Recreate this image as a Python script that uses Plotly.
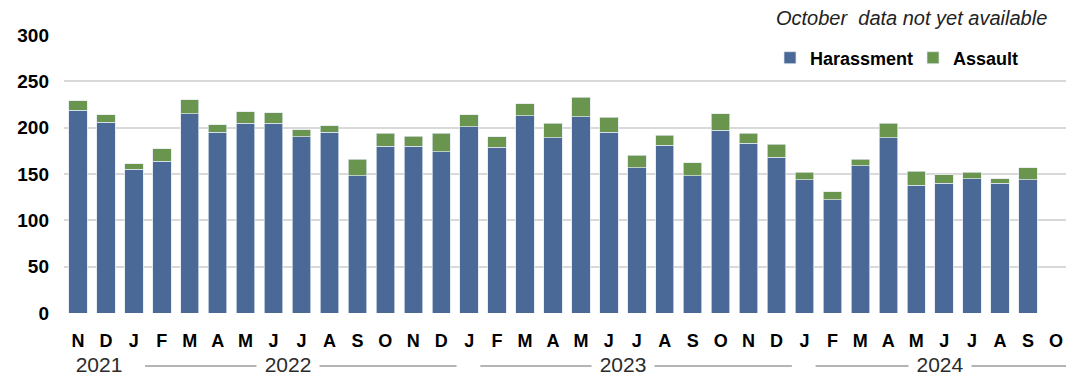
import plotly.graph_objects as go

# Monthly reports, Nov 2021 - Oct 2024 (October 2024 not yet available)
months = ["N", "D",
          "J", "F", "M", "A", "M", "J", "J", "A", "S", "O", "N", "D",
          "J", "F", "M", "A", "M", "J", "J", "A", "S", "O", "N", "D",
          "J", "F", "M", "A", "M", "J", "J", "A", "S", "O"]
years = [2021] * 2 + [2022] * 12 + [2023] * 12 + [2024] * 10

harassment = [219, 206,
              155, 164, 215, 195, 205, 205, 190, 195, 148, 180, 180, 174,
              201, 179, 213, 189, 212, 195, 157, 181, 148, 197, 183, 168,
              144, 122, 159, 189, 138, 140, 145, 140, 144, None]
assault = [10, 8,
           6, 13, 15, 8, 12, 11, 8, 7, 18, 14, 11, 20,
           13, 11, 13, 16, 21, 16, 13, 11, 14, 18, 11, 14,
           8, 9, 7, 16, 15, 9, 7, 5, 13, None]

BLUE = "#4a6996"
GREEN = "#6a954e"
FONT = "Liberation Sans, Arial, Helvetica, sans-serif"

W, H = 1066, 377
ML, MR, MT, MB = 64, 0, 35, 64
PW, PH = W - ML - MR, H - MT - MB

idx = list(range(len(months)))
x_max = 35.36

fig = go.Figure()
edge = dict(color="rgba(225,232,240,0.9)", width=0.8)
fig.add_bar(x=idx, y=harassment, name="Harassment", marker=dict(color=BLUE, line=edge))
fig.add_bar(x=idx, y=assault, name="Assault", marker=dict(color=GREEN, line=edge))


def px_x(px):
    return (px - ML) / PW


def px_y(py):
    return 1 - (py - MT) / PH


# year groups along the bottom: label with a rule running through the group
groups = []
for i, y in enumerate(years):
    if groups and groups[-1][0] == y:
        groups[-1][2] = i
    else:
        groups.append([y, i, i])

label_offsets = {2021: 0.27, 2024: 0.35}
shapes = []
annotations = []
rule_y = px_y(366)
for y, s, e in groups:
    if e - s >= 2:
        shapes.append(dict(type="line", xref="x", yref="paper",
                           x0=s + 0.4, x1=min(e + 0.55, x_max),
                           y0=rule_y, y1=rule_y,
                           line=dict(color="#6b6b6b", width=1)))
    cx = (s + e) / 2 + label_offsets.get(y, 0)
    # white box slightly wider than the text breaks the rule around the label
    annotations.append(dict(x=cx, xref="x", y=px_y(364), yref="paper",
                            text=str(y), showarrow=False,
                            xanchor="center", yanchor="middle",
                            font=dict(family=FONT, size=21, color="#2b2b2b"),
                            bgcolor="white", borderpad=0, width=62, height=18))

annotations.append(dict(x=px_x(1049), xref="paper", y=px_y(18), yref="paper",
                        text="October  data not yet available", showarrow=False,
                        xanchor="right", yanchor="middle",
                        font=dict(family=FONT, size=20, color="#222222", style="italic")))

fig.update_layout(
    width=W, height=H,
    margin=dict(l=ML, r=MR, t=MT, b=MB, pad=0),
    barmode="stack",
    bargap=0.34,
    plot_bgcolor="white",
    paper_bgcolor="white",
    font=dict(family=FONT, color="black"),
    showlegend=True,
    legend=dict(orientation="h", x=px_x(770), xanchor="left",
                y=px_y(58), yanchor="middle",
                font=dict(family=FONT, size=18, color="black", weight="bold"),
                bgcolor="rgba(0,0,0,0)", traceorder="normal",
                entrywidth=98, entrywidthmode="pixels"),
    shapes=shapes,
    annotations=annotations,
)
fig.update_xaxes(range=[-0.5, x_max], tickmode="array", tickvals=idx, ticktext=months,
                 showgrid=False, zeroline=False, showline=False,
                 ticks="outside", ticklen=11, tickcolor="rgba(0,0,0,0)",
                 tickfont=dict(family=FONT, size=18, color="black", weight="bold"),
                 fixedrange=True)
fig.update_yaxes(range=[0, 300], dtick=50, showgrid=True, gridcolor="#d9d9d9", gridwidth=1.5,
                 zeroline=False, showline=False, ticks="",
                 tickfont=dict(family=FONT, size=19, color="black", weight="bold"),
                 ticklabelstandoff=14, fixedrange=True)

fig.write_html("out.html")
